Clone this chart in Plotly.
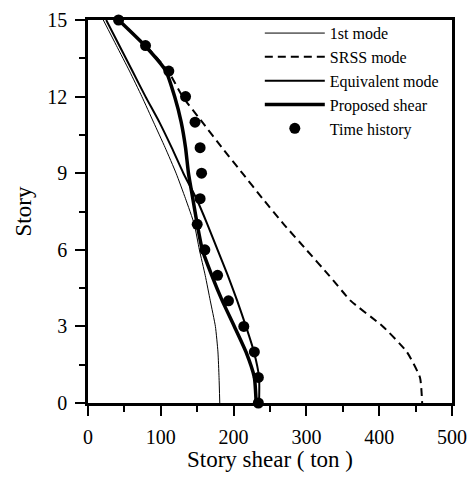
import plotly.graph_objects as go

stories = [15, 14, 13, 12, 11, 10, 9, 8, 7, 6, 5, 4, 3, 2, 1, 0]

first_mode = [21, 39, 57, 74, 90, 106, 121, 134, 146, 153, 161, 168, 175, 178.5, 180, 181]
srss_mode = [42, 79, 110, 130, 157, 184, 212, 240, 269, 300, 331, 361, 405, 438, 456, 459]
equivalent_mode = [25, 43, 61, 79, 98, 115, 131, 149, 164, 178, 192, 205, 217, 228, 235, 235]
proposed_shear = [42, 78, 107, 119, 128, 134, 138, 144, 150, 157, 170, 184.5, 201, 217, 228.5, 231]
time_history = [42, 79, 111, 134, 147, 154, 156, 154, 150, 160.5, 178, 193, 214, 228.5, 234, 234]

x_ticks = [0, 100, 200, 300, 400, 500]
y_ticks = [0, 3, 6, 9, 12, 15]

FONT = "Liberation Serif"

fig = go.Figure()
fig.add_trace(go.Scatter(x=first_mode, y=stories, mode="lines", name="1st mode",
                         line=dict(color="black", width=1, shape="spline", smoothing=0.5),
                         cliponaxis=False))
fig.add_trace(go.Scatter(x=srss_mode, y=stories, mode="lines", name="SRSS mode",
                         line=dict(color="black", width=2, dash="8px,5px", shape="spline", smoothing=0.5),
                         cliponaxis=False))
fig.add_trace(go.Scatter(x=equivalent_mode, y=stories, mode="lines", name="Equivalent mode",
                         line=dict(color="black", width=2, shape="spline", smoothing=0.5),
                         cliponaxis=False))
fig.add_trace(go.Scatter(x=proposed_shear, y=stories, mode="lines", name="Proposed shear",
                         line=dict(color="black", width=3.5, shape="spline", smoothing=0.5),
                         cliponaxis=False))
fig.add_trace(go.Scatter(x=time_history, y=stories, mode="markers", name="Time history",
                         marker=dict(color="black", size=11), cliponaxis=False))

# the page body has an 8px margin; size the figure so the page does not scroll
fig.update_layout(
    width=460, height=464,
    margin=dict(l=80, r=1, t=7, b=69),
    paper_bgcolor="white", plot_bgcolor="white",
    font=dict(family=FONT, color="black", size=20),
    showlegend=True,
    legend=dict(x=0.472, y=1.01, xanchor="left", yanchor="top",
                bgcolor="rgba(0,0,0,0)", font=dict(family=FONT, size=16),
                tracegroupgap=0, itemwidth=60),
)
fig.update_xaxes(
    range=[0, 500], tickvals=x_ticks, ticktext=[str(v) for v in x_ticks],
    tickfont=dict(family=FONT, size=20), ticklabeloverflow="allow", ticklabelstandoff=4,
    showgrid=False, zeroline=False, showline=True, linecolor="black", linewidth=2.5,
    mirror=True, ticks="outside", ticklen=10, tickwidth=2, tickcolor="black",
    minor=dict(dtick=50, ticks="outside", ticklen=6, tickwidth=2, tickcolor="black"),
    title=dict(text="Story shear ( ton )", font=dict(family=FONT, size=23), standoff=2),
)
fig.update_yaxes(
    range=[0, 15], tickvals=y_ticks, ticktext=[str(v) for v in y_ticks],
    tickfont=dict(family=FONT, size=20), ticklabeloverflow="allow", ticklabelstandoff=4,
    showgrid=False, zeroline=False, showline=True, linecolor="black", linewidth=2.5,
    mirror=True, ticks="outside", ticklen=10, tickwidth=2, tickcolor="black",
    minor=dict(dtick=1.5, ticks="outside", ticklen=6, tickwidth=2, tickcolor="black"),
    title=dict(text="Story", font=dict(family=FONT, size=23), standoff=10),
)

fig.write_html("out.html")
